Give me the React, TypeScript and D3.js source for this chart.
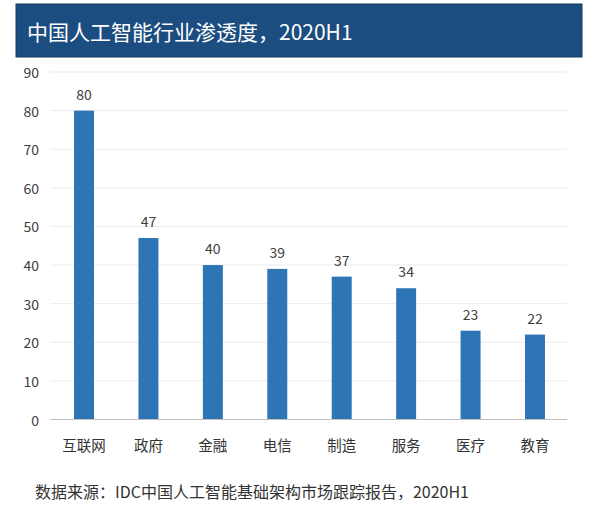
import React from "react";
import * as d3 from "d3";

const title = "中国人工智能行业渗透度，2020H1";
const source = "数据来源：IDC中国人工智能基础架构市场跟踪报告，2020H1";
const categories = ["互联网", "政府", "金融", "电信", "制造", "服务", "医疗", "教育"];
const values = [80, 47, 40, 39, 37, 34, 23, 22];
const yTicks = [0, 10, 20, 30, 40, 50, 60, 70, 80, 90];

const W = 592;
const H = 506;
const FONT = '"Noto Sans CJK SC", "Microsoft YaHei", sans-serif';

export default function App() {
  const x = d3
    .scaleBand<string>()
    .domain(categories)
    .range([51.8, 567.2])
    .paddingInner(0.69)
    .paddingOuter(0.345);
  const y = d3.scaleLinear().domain([0, 90]).range([419.5, 72]);

  return (
    <svg
      width={W}
      height={H}
      style={{ position: "absolute", left: 0, top: 0, background: "#fff" }}
      fontFamily={FONT}
    >
      <rect x={16} y={4} width={566} height={53} fill="#1c4d80" stroke="#163a62" strokeWidth={1} />
      <text x={27} y={40} fill="#ffffff" fontSize={21}>
        {title}
      </text>

      {yTicks.map((t) => (
        <g key={t}>
          {t !== 0 && (
            <line x1={50} x2={567} y1={y(t)} y2={y(t)} stroke="#ebebeb" strokeWidth={1} />
          )}
          <text
            x={39}
            y={y(t)}
            textAnchor="end"
            dominantBaseline="central"
            fontSize={14}
            fill="#404040"
          >
            {t}
          </text>
        </g>
      ))}

      {categories.map((c, i) => (
        <g key={c}>
          <rect
            x={x(c)!}
            y={y(values[i])}
            width={x.bandwidth()}
            height={y(0) - y(values[i])}
            fill="#2e75b6"
          />
          <text
            x={x(c)! + x.bandwidth() / 2}
            y={y(values[i]) - 11}
            textAnchor="middle"
            fontSize={14}
            fill="#404040"
          >
            {values[i]}
          </text>
          <text
            x={x(c)! + x.bandwidth() / 2}
            y={444}
            textAnchor="middle"
            dominantBaseline="central"
            fontSize={14.5}
            fill="#333"
          >
            {c}
          </text>
        </g>
      ))}

      <line x1={50} x2={567} y1={y(0)} y2={y(0)} stroke="#bfbfbf" strokeWidth={1} />

      <text x={35} y={491} dominantBaseline="central" fontSize={16} fill="#333">
        {source}
      </text>
    </svg>
  );
}
